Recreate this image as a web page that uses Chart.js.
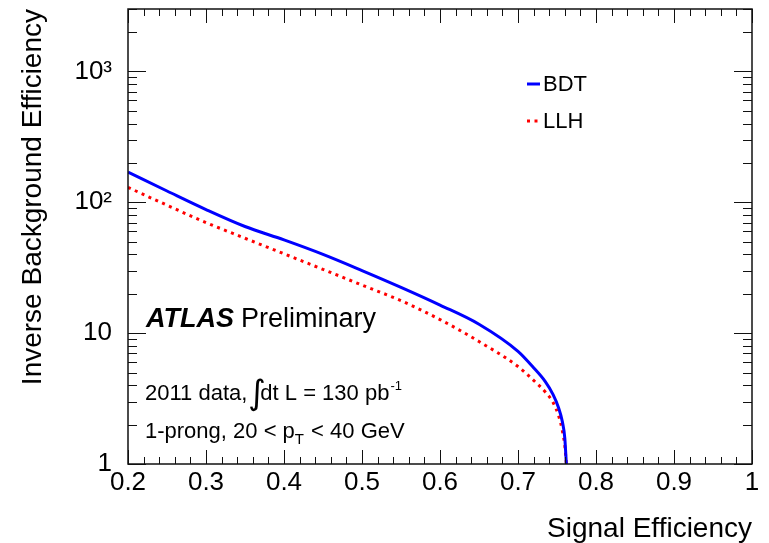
<!DOCTYPE html>
<html>
<head>
<meta charset="utf-8">
<script src="https://cdn.jsdelivr.net/npm/chart.js@4.4.1/dist/chart.umd.min.js"></script>
<style>
html, body { margin: 0; padding: 0; background: #fff; }
</style>
</head>
<body>
<canvas id="myChart" width="769" height="543"></canvas>
<script>
// signal efficiency (x) and inverse background efficiency (y)
const sigEff = [0.2, 0.25, 0.3, 0.35, 0.4, 0.45, 0.5, 0.55, 0.6, 0.65, 0.7, 0.72, 0.735, 0.745, 0.752, 0.757, 0.76, 0.762];
const bdt = [170, 122, 88, 65.3, 51.6, 40, 30.1, 22.4, 16.4, 11.7, 7.26, 5.44, 4.26, 3.39, 2.69, 2.09, 1.58, 1.0];
const llh = [130, 95, 70, 53.1, 40.4, 30.7, 23.3, 17.7, 12.7, 8.63, 5.56, 4.36, 3.55, 2.95, 2.34, 1.78, 1.38, 1.0];

const xTicks = [0.2, 0.3, 0.4, 0.5, 0.6, 0.7, 0.8, 0.9, 1];
const xTickLabels = ['0.2', '0.3', '0.4', '0.5', '0.6', '0.7', '0.8', '0.9', '1'];
const yTicks = [1, 10, 100, 1000];
const yTickLabels = ['1', '10', '10\u00B2', '10\u00B3'];

const FONT = '"Liberation Sans", Arial, Helvetica, sans-serif';

const pts = (ys) => sigEff.map((x, i) => ({ x: x, y: ys[i] }));

// ROOT style frame: box + inward ticks on all four sides, plus the text labels
const rootFrame = {
    id: 'rootFrame',
    afterDatasetsDraw(chart) {
        const { ctx, chartArea: a, scales: { x, y } } = chart;
        ctx.save();
        ctx.strokeStyle = '#111';
        ctx.lineWidth = 1;
        const seg = (x1, y1, x2, y2) => { ctx.beginPath(); ctx.moveTo(x1, y1); ctx.lineTo(x2, y2); ctx.stroke(); };

        // x ticks (major every 0.1, minor every 0.02)
        for (let i = 0; i <= 40; i++) {
            const px = Math.round(x.getPixelForValue(0.2 + i * 0.02)) + 0.5;
            const len = i % 5 === 0 ? 14 : 7;
            seg(px, a.bottom, px, a.bottom - len);
            seg(px, a.top, px, a.top + len);
        }
        // y ticks (log decades with 2..9 minors)
        yTicks.forEach(d => {
            for (let m = 1; m <= 9; m++) {
                const v = d * m;
                if (v > y.max) break;
                const py = Math.round(y.getPixelForValue(v)) + 0.5;
                const len = m === 1 ? 18 : 9;
                seg(a.left, py, a.left + len, py);
                seg(a.right, py, a.right - len, py);
            }
        });

        ctx.lineWidth = 1.5;
        ctx.strokeRect(a.left, a.top, a.right - a.left, a.bottom - a.top);

        // legend
        ctx.textBaseline = 'middle';
        ctx.fillStyle = '#000';
        ctx.font = '22px ' + FONT;
        chart.data.datasets.forEach((ds, i) => {
            const ly = 84 + i * 37;
            ctx.strokeStyle = ds.borderColor;
            ctx.lineWidth = 3;
            ctx.setLineDash(ds.borderDash || []);
            seg(527, ly, 540, ly);
            ctx.setLineDash([]);
            ctx.fillText(ds.label, 543, ly + 1);
        });

        // ATLAS Preliminary
        ctx.textBaseline = 'alphabetic';
        ctx.font = 'italic bold 27px ' + FONT;
        ctx.fillText('ATLAS', 146, 327);
        ctx.font = '27px ' + FONT;
        ctx.fillText('Preliminary', 241, 327);

        // 2011 data, \int dt L = 130 pb^-1
        let tx = 145;
        ctx.font = '22px ' + FONT;
        ctx.fillText('2011 data,', tx, 400);
        tx += ctx.measureText('2011 data,').width + 3;
        ctx.font = '34px "DejaVu Sans", ' + FONT;
        ctx.fillText('\u222B', tx - 2, 404);
        tx += 10;
        ctx.font = '22px ' + FONT;
        ctx.fillText('dt L = 130 pb', tx, 400);
        tx += ctx.measureText('dt L = 130 pb').width + 1;
        ctx.font = '13px ' + FONT;
        ctx.fillText('-1', tx, 390);

        // 1-prong, 20 < p_T < 40 GeV
        tx = 145;
        ctx.font = '22px ' + FONT;
        ctx.fillText('1-prong, 20 < p', tx, 438);
        tx += ctx.measureText('1-prong, 20 < p').width;
        ctx.font = '15px ' + FONT;
        ctx.fillText('T', tx, 444);
        tx += ctx.measureText('T').width + 1;
        ctx.font = '22px ' + FONT;
        ctx.fillText(' < 40 GeV', tx, 438);

        ctx.restore();
    }
};

const ctx = document.getElementById('myChart').getContext('2d');
const myChart = new Chart(ctx, {
    type: 'line',
    data: {
        datasets: [{
            label: 'BDT',
            data: pts(bdt),
            borderColor: '#0000ff',
            borderWidth: 3,
            pointRadius: 0,
            fill: false,
            cubicInterpolationMode: 'monotone'
        }, {
            label: 'LLH',
            data: pts(llh),
            borderColor: '#ff0000',
            borderWidth: 3,
            borderDash: [3, 4.5],
            pointRadius: 0,
            fill: false,
            cubicInterpolationMode: 'monotone'
        }]
    },
    options: {
        responsive: false,
        animation: false,
        layout: { padding: { top: 9, right: 17, left: 0, bottom: 0 } },
        plugins: {
            legend: { display: false },
            tooltip: { enabled: false }
        },
        scales: {
            x: {
                type: 'linear',
                min: 0.2,
                max: 1,
                grid: { display: false },
                border: { display: false },
                afterBuildTicks: (s) => { s.ticks = xTicks.map(v => ({ value: v })); },
                afterFit: (s) => { s.height = 79; s.paddingLeft = 0; s.paddingRight = 0; },
                ticks: {
                    autoSkip: false,
                    maxRotation: 0,
                    padding: -5,
                    color: '#000',
                    font: { family: FONT, size: 26 },
                    callback: (v, i) => xTickLabels[i]
                },
                title: {
                    display: true,
                    text: 'Signal Efficiency',
                    align: 'end',
                    color: '#000',
                    font: { family: FONT, size: 28, lineHeight: 1.0 },
                    padding: { top: 0, bottom: 0 }
                }
            },
            y: {
                type: 'logarithmic',
                min: 1,
                max: 3000,
                grid: { display: false },
                border: { display: false },
                afterBuildTicks: (s) => { s.ticks = yTicks.map(v => ({ value: v })); },
                afterFit: (s) => { s.width = 128; s.paddingTop = 0; s.paddingBottom = 0; },
                ticks: {
                    autoSkip: false,
                    padding: 8,
                    color: '#000',
                    font: { family: FONT, size: 26 },
                    callback: (v, i) => yTickLabels[i]
                },
                title: {
                    display: true,
                    text: 'Inverse Background Efficiency',
                    align: 'end',
                    color: '#000',
                    font: { family: FONT, size: 28 },
                    padding: { top: 16, bottom: 0 }
                }
            }
        }
    },
    plugins: [rootFrame]
});
</script>
</body>
</html>
